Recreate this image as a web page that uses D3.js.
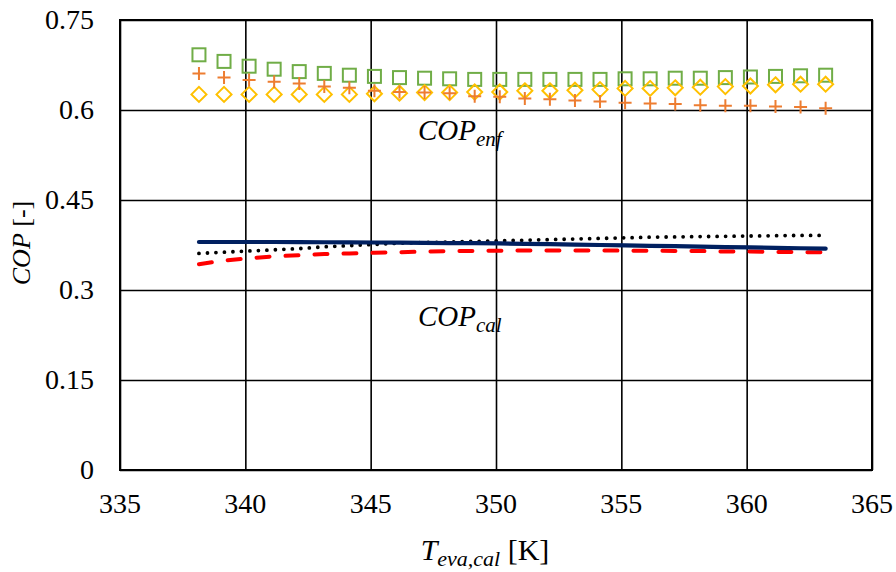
<!DOCTYPE html>
<html>
<head>
<meta charset="utf-8">
<script src="https://cdn.jsdelivr.net/npm/d3@7"></script>
<style>
  body { margin: 0; background: #fff; }
  text { font-family: "Liberation Serif", "DejaVu Serif", serif; }
</style>
</head>
<body>
<div id="chart"></div>
<script>
// evaporator temperatures [K]
const temps = d3.range(26).map(i => 338.15 + i);

// COP values
const copEnfSquare = [0.692, 0.681, 0.673, 0.668, 0.664, 0.661, 0.658, 0.656, 0.654, 0.653, 0.652, 0.651, 0.651,
  0.651, 0.651, 0.651, 0.651, 0.652, 0.652, 0.653, 0.653, 0.654, 0.655, 0.656, 0.657, 0.658];
const copEnfPlus = [0.661, 0.654, 0.650, 0.647, 0.644, 0.639, 0.637, 0.632, 0.630, 0.629, 0.628, 0.623, 0.622,
  0.619, 0.618, 0.616, 0.614, 0.612, 0.611, 0.610, 0.608, 0.607, 0.607, 0.606, 0.605, 0.603];
const copEnfDiamond = [0.626, 0.626, 0.626, 0.626, 0.626, 0.626, 0.626, 0.627, 0.628, 0.629, 0.629, 0.630, 0.630,
  0.632, 0.632, 0.633, 0.634, 0.636, 0.636, 0.637, 0.638, 0.639, 0.640, 0.642, 0.643, 0.643];
const copCalSolid = [0.380, 0.380, 0.380, 0.380, 0.3798, 0.3796, 0.3794, 0.3792, 0.379, 0.3786, 0.3782, 0.378, 0.3776,
  0.377, 0.3763, 0.3756, 0.375, 0.3744, 0.3737, 0.373, 0.3723, 0.3716, 0.371, 0.3703, 0.3696, 0.369];
const copCalDotted = [0.361, 0.363, 0.365, 0.367, 0.369, 0.372, 0.374, 0.376, 0.378, 0.379, 0.380, 0.381, 0.382,
  0.383, 0.384, 0.385, 0.386, 0.387, 0.388, 0.3885, 0.389, 0.3895, 0.390, 0.3905, 0.391, 0.391];
const copCalDashed = [0.343, 0.349, 0.353, 0.356, 0.358, 0.360, 0.361, 0.362, 0.363, 0.364, 0.365, 0.365, 0.3655,
  0.366, 0.366, 0.366, 0.366, 0.3655, 0.3655, 0.365, 0.365, 0.364, 0.364, 0.3635, 0.363, 0.363];

const xTicks = [335, 340, 345, 350, 355, 360, 365];
const yTicks = [0, 0.15, 0.3, 0.45, 0.6, 0.75];
const yTickLabels = ["0", "0.15", "0.3", "0.45", "0.6", "0.75"];

const width = 896, height = 572;
const plot = {left: 120, right: 872, top: 20, bottom: 470};

const svg = d3.select("#chart").append("svg")
  .attr("width", width)
  .attr("height", height);

const x = d3.scaleLinear().domain([335, 365]).range([plot.left, plot.right]);
const y = d3.scaleLinear().domain([0, 0.75]).range([plot.bottom, plot.top]);

// grid
svg.append("g")
  .attr("transform", "translate(0," + plot.bottom + ")")
  .call(d3.axisBottom(x).tickValues(xTicks).tickSize(-(plot.bottom - plot.top)).tickFormat(""))
  .call(g => g.select(".domain").remove())
  .selectAll("line").attr("stroke", "#000").attr("stroke-width", 1.6);

svg.append("g")
  .attr("transform", "translate(" + plot.left + ",0)")
  .call(d3.axisLeft(y).tickValues(yTicks).tickSize(-(plot.right - plot.left)).tickFormat(""))
  .call(g => g.select(".domain").remove())
  .selectAll("line").attr("stroke", "#000").attr("stroke-width", 1.6);

svg.append("rect")
  .attr("x", plot.left).attr("y", plot.top)
  .attr("width", plot.right - plot.left).attr("height", plot.bottom - plot.top)
  .attr("fill", "none").attr("stroke", "#000").attr("stroke-width", 2);

// tick labels
svg.append("g").selectAll("text")
  .data(xTicks).join("text")
  .attr("x", d => x(d)).attr("y", 513)
  .attr("text-anchor", "middle")
  .attr("font-size", 28)
  .text(d => d);

svg.append("g").selectAll("text")
  .data(yTicks).join("text")
  .attr("x", 94).attr("y", d => y(d) + 9)
  .attr("text-anchor", "end")
  .attr("font-size", 28)
  .text((d, i) => yTickLabels[i]);

// lines
const line = d3.line().x(d => x(d[0])).y(d => y(d[1]));
function pairs(vals) { return temps.map((t, i) => [t, vals[i]]); }

svg.append("path").datum(pairs(copCalDashed))
  .attr("d", line).attr("fill", "none")
  .attr("stroke", "#FF0000").attr("stroke-width", 4)
  .attr("stroke-dasharray", "13,16").attr("stroke-linecap", "round");

svg.append("path").datum(pairs(copCalDotted))
  .attr("d", line).attr("fill", "none")
  .attr("stroke", "#000").attr("stroke-width", 3.8)
  .attr("stroke-dasharray", "0,8.5").attr("stroke-linecap", "round");

svg.append("path").datum(pairs(copCalSolid))
  .attr("d", line).attr("fill", "none")
  .attr("stroke", "#002060").attr("stroke-width", 4.2)
  .attr("stroke-linecap", "round");

// markers
const s = 13;
svg.append("g").selectAll("rect")
  .data(pairs(copEnfSquare)).join("rect")
  .attr("x", d => x(d[0]) - s / 2).attr("y", d => y(d[1]) - s / 2)
  .attr("width", s).attr("height", s)
  .attr("fill", "none").attr("stroke", "#70AD47").attr("stroke-width", 2);

const dm = 7.5;
svg.append("g").selectAll("path")
  .data(pairs(copEnfDiamond)).join("path")
  .attr("d", d => {
    const cx = x(d[0]), cy = y(d[1]);
    return `M${cx},${cy - dm}L${cx + dm},${cy}L${cx},${cy + dm}L${cx - dm},${cy}Z`;
  })
  .attr("fill", "none").attr("stroke", "#FFC000").attr("stroke-width", 2);

const pl = 6.5;
svg.append("g").selectAll("path")
  .data(pairs(copEnfPlus)).join("path")
  .attr("d", d => {
    const cx = x(d[0]), cy = y(d[1]);
    return `M${cx - pl},${cy}H${cx + pl}M${cx},${cy - pl}V${cy + pl}`;
  })
  .attr("fill", "none").attr("stroke", "#ED7D31").attr("stroke-width", 2);

// annotations
function copLabel(xp, yp, sub) {
  const t = svg.append("text")
    .attr("x", xp).attr("y", yp)
    .attr("font-size", 29).attr("font-style", "italic");
  t.append("tspan").text("COP");
  t.append("tspan").attr("font-size", 21).attr("dy", 6).text(sub);
}
copLabel(418, 140, "enf");
copLabel(418, 326, "cal");

// axis titles
const xt = svg.append("text")
  .attr("x", 485).attr("y", 560)
  .attr("text-anchor", "middle")
  .attr("font-size", 30);
xt.append("tspan").attr("font-style", "italic").text("T");
xt.append("tspan").attr("font-style", "italic").attr("font-size", 22).attr("dy", 6).text("eva,cal");
xt.append("tspan").attr("dy", -6).text(" [K]");

const yt = svg.append("text")
  .attr("transform", "translate(30,243) rotate(-90)")
  .attr("text-anchor", "middle")
  .attr("font-size", 26);
yt.append("tspan").attr("font-style", "italic").text("COP");
yt.append("tspan").text(" [-]");
</script>
</body>
</html>
